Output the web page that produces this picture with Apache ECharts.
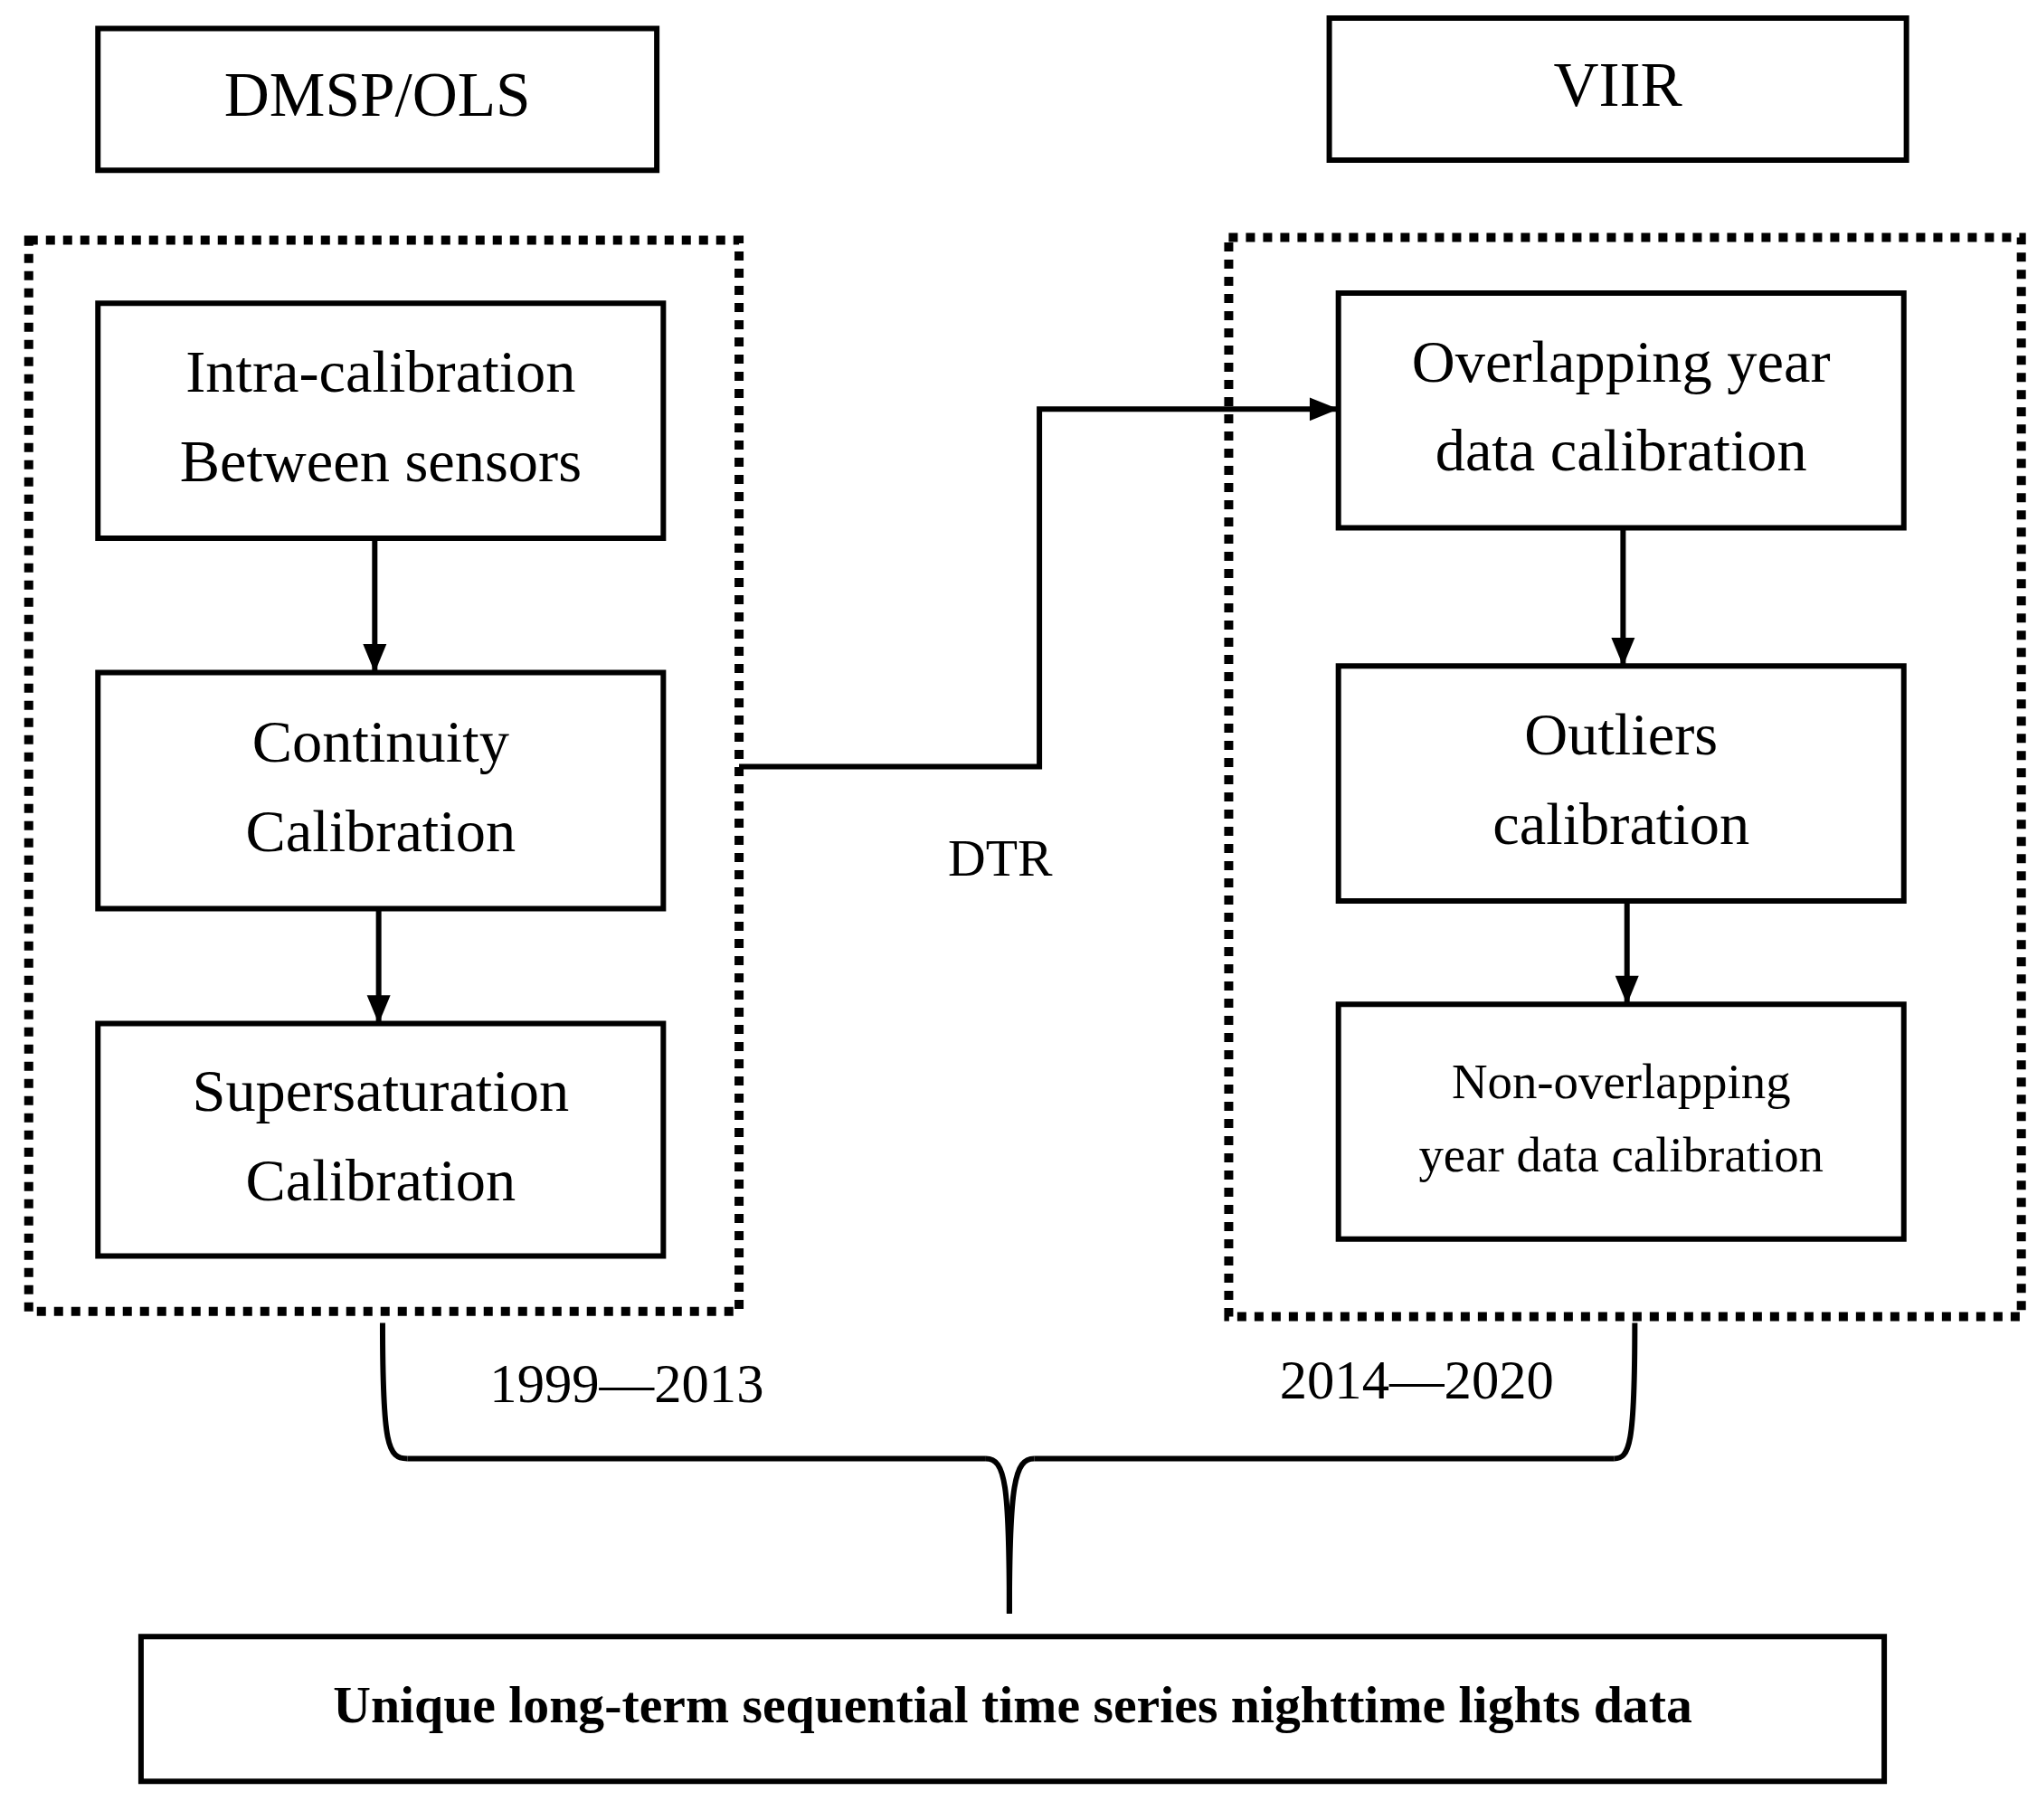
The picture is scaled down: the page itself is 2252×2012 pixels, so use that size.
<!DOCTYPE html>
<html>
<head>
<meta charset="utf-8">
<script src="https://cdn.jsdelivr.net/npm/echarts@6/dist/echarts.min.js"></script>
<style>html,body{margin:0;padding:0;background:#fff}#main{width:2252px;height:2012px}</style>
</head>
<body>
<div id="main"></div>
<script>
// flow chart texts
var headers = ['DMSP/OLS', 'VIIR'];
var leftSteps = [['Intra-calibration', 'Between sensors'], ['Continuity', 'Calibration'], ['Supersaturation', 'Calibration']];
var rightSteps = [['Overlapping year', 'data calibration'], ['Outliers', 'calibration'], ['Non-overlapping', 'year data calibration']];
var periods = ['1999\u20142013', '2014\u20142020'];
var linkLabel = 'DTR';
var resultLabel = 'Unique long-term sequential time series nighttime lights data';

var myChart = echarts.init(document.getElementById('main'));
var SX = 2252 / 1560, SY = 2012 / 1410;
var FONT = '"Liberation Serif", "DejaVu Serif", serif';
var LW = 6;
var els = [];

function box(x1, y1, x2, y2, lines, size, bold) {
  els.push({type: 'rect', shape: {x: x1 * SX, y: y1 * SY, width: (x2 - x1) * SX, height: (y2 - y1) * SY},
    style: {fill: '#fff', stroke: '#000', lineWidth: LW}});
  var n = lines.length, gap = size * 1.5;
  lines.forEach(function (t, i) {
    text((x1 + x2) / 2, (y1 + y2) / 2 + (i - (n - 1) / 2) * gap, t, size, bold);
  });
}
function text(x, y, t, size, bold) {
  els.push({type: 'text', x: x * SX, y: y * SY, z: 5,
    style: {text: t, font: (bold ? 'bold ' : '') + size * SX + 'px ' + FONT, fill: '#000', align: 'center', verticalAlign: 'middle'}});
}
function dotted(x1, y1, x2, y2) {
  els.push({type: 'rect', shape: {x: x1 * SX, y: y1 * SY, width: (x2 - x1) * SX, height: (y2 - y1) * SY},
    style: {fill: 'none', stroke: '#000', lineWidth: 10, lineDash: [10, 9]}});
}
function poly(pts, arrow) {
  els.push({type: 'polyline', shape: {points: pts.map(function (p) { return [p[0] * SX, p[1] * SY]; })},
    style: {stroke: '#000', lineWidth: LW, fill: 'none'}});
  if (arrow) {
    var a = pts[pts.length - 2], b = pts[pts.length - 1];
    var dx = b[0] - a[0], dy = b[1] - a[1], L = Math.sqrt(dx * dx + dy * dy);
    var ux = dx / L, uy = dy / L, h = 22, w = 9;
    var bx = b[0] - ux * h, by = b[1] - uy * h;
    els.push({type: 'polygon', z: 6, shape: {points: [[b[0] * SX, b[1] * SY],
      [(bx - uy * w) * SX, (by + ux * w) * SY], [(bx + uy * w) * SX, (by - ux * w) * SY]]},
      style: {fill: '#000'}});
  }
}
function curve(x1, y1, c1x, c1y, c2x, c2y, x2, y2) {
  els.push({type: 'bezierCurve', shape: {x1: x1 * SX, y1: y1 * SY, cpx1: c1x * SX, cpy1: c1y * SY,
    cpx2: c2x * SX, cpy2: c2y * SY, x2: x2 * SX, y2: y2 * SY},
    style: {stroke: '#000', lineWidth: LW, fill: 'none'}});
}

box(75, 22, 503, 132, [headers[0]], 48);
box(1018, 14, 1460, 124, [headers[1]], 48);
dotted(22, 186, 566, 1016);
dotted(941, 184, 1548, 1020);

var ly = [[235, 417], [521, 704], [793, 973]];
ly.forEach(function (r, i) { box(75, r[0], 508, r[1], leftSteps[i], 46); });
var ry = [[227, 409], [516, 698], [778, 960]];
ry.forEach(function (r, i) { box(1025, r[0], 1458, r[1], rightSteps[i], i === 2 ? 38 : 46); });

poly([[287, 417], [287, 521]], true);
poly([[290, 704], [290, 793]], true);
poly([[1243, 409], [1243, 516]], true);
poly([[1246, 698], [1246, 778]], true);
poly([[566, 594], [796, 594], [796, 317], [1025, 317]], true);
text(766, 668, linkLabel, 40);

// brace
curve(293, 1025, 293, 1120, 297, 1130, 312, 1130);
poly([[312, 1130], [755, 1130]]);
curve(755, 1130, 770, 1130, 773, 1150, 773, 1250);
curve(1252, 1025, 1252, 1120, 1248, 1130, 1236, 1130);
poly([[1236, 1130], [792, 1130]]);
curve(792, 1130, 777, 1130, 773, 1150, 773, 1250);
text(480, 1075, periods[0], 42);
text(1085, 1072, periods[1], 42);

box(108, 1268, 1443, 1380, [resultLabel], 40, true);

var option = {
  animation: false,
  backgroundColor: '#fff',
  graphic: {elements: els}
};
myChart.setOption(option);
</script>
</body>
</html>
